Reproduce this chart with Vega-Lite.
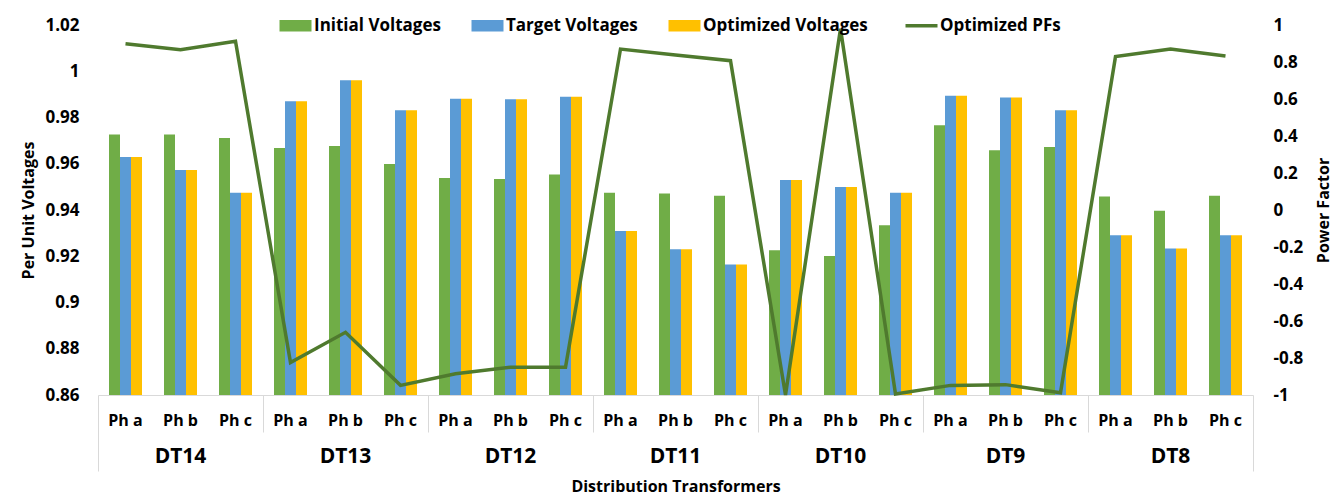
{
  "$schema": "https://vega.github.io/schema/vega-lite/v6.json",
  "autosize": {"type": "none"},
  "padding": {"left": 98, "top": 25, "right": 87, "bottom": 104},
  "width": 1155,
  "height": 370,
  "background": "white",
  "config": {
    "view": {"stroke": null},
    "font": "Open Sans",
    "axis": {"labelFont": "Open Sans", "labelFontWeight": "bold", "labelColor": "#000", "titleFont": "Open Sans", "titleFontWeight": "bold", "titleColor": "#000", "titleFontSize": 16, "grid": false}
  },
  "data": {"values": [
    {"k": "DT14-a", "i": 0.9727, "t": 0.9629, "o": 0.9629, "pf": 0.899},
    {"k": "DT14-b", "i": 0.9727, "t": 0.9573, "o": 0.9573, "pf": 0.866},
    {"k": "DT14-c", "i": 0.9711, "t": 0.9475, "o": 0.9475, "pf": 0.912},
    {"k": "DT13-a", "i": 0.9668, "t": 0.9870, "o": 0.9870, "pf": -0.825},
    {"k": "DT13-b", "i": 0.9677, "t": 0.9961, "o": 0.9961, "pf": -0.661},
    {"k": "DT13-c", "i": 0.9599, "t": 0.9831, "o": 0.9831, "pf": -0.948},
    {"k": "DT12-a", "i": 0.9538, "t": 0.9881, "o": 0.9881, "pf": -0.885},
    {"k": "DT12-b", "i": 0.9534, "t": 0.9879, "o": 0.9879, "pf": -0.850},
    {"k": "DT12-c", "i": 0.9553, "t": 0.9890, "o": 0.9890, "pf": -0.850},
    {"k": "DT11-a", "i": 0.9475, "t": 0.9309, "o": 0.9309, "pf": 0.870},
    {"k": "DT11-b", "i": 0.9471, "t": 0.9230, "o": 0.9230, "pf": 0.838},
    {"k": "DT11-c", "i": 0.9462, "t": 0.9164, "o": 0.9164, "pf": 0.807},
    {"k": "DT10-a", "i": 0.9226, "t": 0.9530, "o": 0.9530, "pf": -1.0},
    {"k": "DT10-b", "i": 0.9201, "t": 0.9500, "o": 0.9500, "pf": 0.98},
    {"k": "DT10-c", "i": 0.9334, "t": 0.9475, "o": 0.9475, "pf": -0.995},
    {"k": "DT9-a", "i": 0.9766, "t": 0.9894, "o": 0.9894, "pf": -0.948},
    {"k": "DT9-b", "i": 0.9658, "t": 0.9886, "o": 0.9886, "pf": -0.944},
    {"k": "DT9-c", "i": 0.9672, "t": 0.9831, "o": 0.9831, "pf": -0.988},
    {"k": "DT8-a", "i": 0.9458, "t": 0.9291, "o": 0.9291, "pf": 0.829},
    {"k": "DT8-b", "i": 0.9397, "t": 0.9234, "o": 0.9234, "pf": 0.870},
    {"k": "DT8-c", "i": 0.9462, "t": 0.9291, "o": 0.9291, "pf": 0.832}
  ]},
  "layer": [
    {
      "transform": [{"fold": ["i", "t", "o"], "as": ["s", "v"]}],
      "mark": {"type": "bar", "clip": true},
      "encoding": {
        "x": {"field": "k", "type": "nominal", "sort": null,
          "scale": {"paddingInner": 0, "paddingOuter": 0},
          "axis": {"orient": "bottom", "title": null, "domain": true, "domainColor": "#d9d9d9", "ticks": false,
            "labelExpr": "'Ph ' + slice(datum.value, -1)", "labelAngle": 0, "labelFontSize": 16, "labelPadding": 17, "labelOverlap": false}},
        "xOffset": {"field": "s", "type": "nominal", "sort": ["i", "t", "o"], "scale": {"paddingInner": 0, "paddingOuter": 1.18}},
        "y": {"field": "v", "type": "quantitative",
          "scale": {"domain": [0.86, 1.02], "nice": false, "zero": false},
          "axis": {"orient": "left", "title": "Per Unit Voltages", "values": [0.86, 0.88, 0.9, 0.92, 0.94, 0.96, 0.98, 1, 1.02],
            "labelExpr": "'' + datum.value", "domain": false, "ticks": false, "labelFontSize": 17, "labelPadding": 19, "titlePadding": 8}},
        "color": {"field": "s", "type": "nominal",
          "scale": {"domain": ["i", "t", "o", "pf"], "range": ["#70AD47", "#5B9BD5", "#FFC000", "#4F7A2E"]},
          "legend": {
            "orient": "none", "legendX": 189, "legendY": -8, "direction": "horizontal", "title": null,
            "labelFont": "Open Sans", "labelFontSize": 17, "labelFontWeight": "bold", "labelColor": "#000", "labelLimit": 400,
            "symbolSize": 1024, "labelOffset": 10, "columnPadding": 30,
            "labelExpr": "datum.value == 'i' ? 'Initial Voltages' : datum.value == 't' ? 'Target Voltages' : datum.value == 'o' ? 'Optimized Voltages' : 'Optimized PFs'",
            "encode": {"symbols": {"update": {
              "shape": {"signal": "datum.value == 'pf' ? 'stroke' : 'M-1,-0.36H1V0.36H-1Z'"},
              "fill": {"signal": "datum.value == 'pf' ? 'transparent' : scale('color', datum.value)"},
              "stroke": {"signal": "scale('color', datum.value)"},
              "strokeWidth": {"signal": "datum.value == 'pf' ? 3.5 : 0"},
              "opacity": {"value": 1}
            }}}
          }}
      }
    },
    {
      "mark": {"type": "line", "strokeWidth": 3.5},
      "encoding": {
        "x": {"field": "k", "type": "nominal", "sort": null,
          "axis": {"orient": "bottom", "domain": false, "bandPosition": 0, "ticks": true, "tickColor": "#d9d9d9", "tickWidth": 1,
            "tickSize": {"condition": {"test": "datum.value == 'DT14-a'", "value": 76}, "value": 37},
            "tickOpacity": {"condition": {"test": "slice(datum.value, -1) == 'a'", "value": 1}, "value": 0},
            "labelExpr": "slice(datum.value, -1) == 'b' ? split(datum.value, '-')[0] : ''",
            "labelAngle": 0, "labelFontSize": 21, "labelPadding": 13, "labelOverlap": false,
            "title": "Distribution Transformers", "titleY": 83, "titleBaseline": "top"}},
        "y": {"field": "pf", "type": "quantitative",
          "scale": {"domain": [-1, 1], "nice": false},
          "axis": {"orient": "right", "title": "Power Factor", "titleAngle": 270, "titleBaseline": "top", "values": [-1, -0.8, -0.6, -0.4, -0.2, 0, 0.2, 0.4, 0.6, 0.8, 1],
            "labelExpr": "'' + datum.value", "domain": false, "ticks": false, "labelFontSize": 17, "labelPadding": 20, "titlePadding": 13}},
        "color": {"datum": "pf"}
      }
    },
    {
      "mark": {"type": "tick", "opacity": 0},
      "encoding": {
        "x": {"field": "k", "type": "nominal", "sort": null,
          "axis": {"orient": "bottom", "domain": false, "bandPosition": 1, "ticks": true, "tickColor": "#d9d9d9", "tickWidth": 1, "tickSize": 76,
            "tickOpacity": {"condition": {"test": "datum.value == 'DT8-c'", "value": 1}, "value": 0},
            "labels": false, "title": null}}
      }
    }
  ],
  "resolve": {"scale": {"y": "independent"}, "axis": {"x": "independent"}}
}
